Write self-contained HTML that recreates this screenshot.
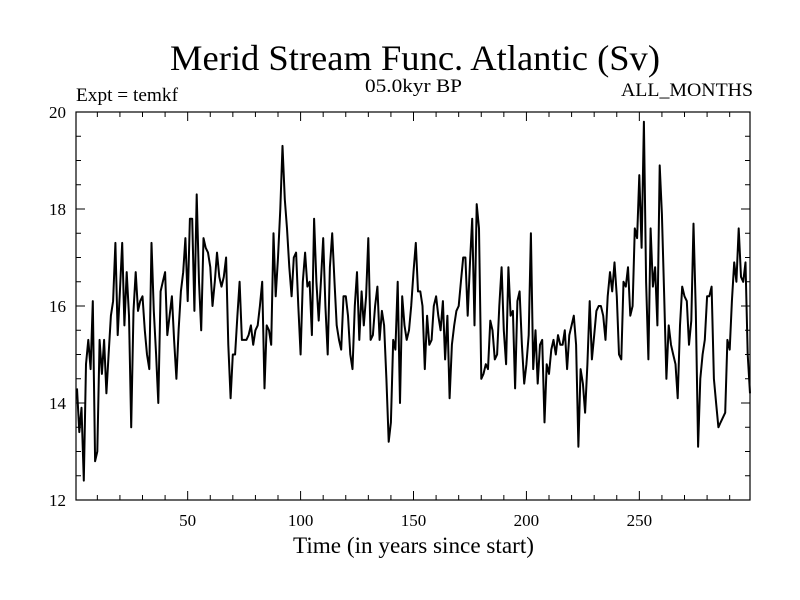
<!DOCTYPE html>
<html><head><meta charset="utf-8"><style>
body{margin:0;background:#fff}
svg{display:block}
text{font-family:"Liberation Serif",serif;fill:#000}
</style></head><body>
<svg id="chart" width="800" height="600" xmlns="http://www.w3.org/2000/svg">
<rect width="800" height="600" fill="#fff"/>
<text x="170" y="70" font-size="36" textLength="490" lengthAdjust="spacingAndGlyphs">Merid Stream Func. Atlantic (Sv)</text>
<text x="76" y="101" font-size="19" textLength="102" lengthAdjust="spacingAndGlyphs">Expt = temkf</text>
<text x="365" y="92" font-size="19" textLength="97" lengthAdjust="spacingAndGlyphs">05.0kyr BP</text>
<text x="621" y="96" font-size="19" textLength="132" lengthAdjust="spacingAndGlyphs">ALL_MONTHS</text>
<text x="293" y="553" font-size="23" textLength="241" lengthAdjust="spacingAndGlyphs">Time (in years since start)</text>
<g id="axes"></g>
<polyline id="series" fill="none" stroke="#000" stroke-width="2" stroke-linejoin="round"/>
<rect x="76" y="112" width="674" height="388" fill="none" stroke="#000" stroke-width="1.2"/>
</svg>
<script>
const xTicks=[50,100,150,200,250];
const yTicks=[12,14,16,18,20];
const values=[
14.3,13.4,13.9,12.4,14.8,15.3,14.7,16.1,12.8,13.0,15.3,14.6,15.3,14.2,15.0,15.8,16.1,17.3,15.4,16.3,
17.3,15.6,16.7,15.8,13.5,15.9,16.7,15.9,16.1,16.2,15.5,15.0,14.7,17.3,15.9,15.0,14.0,16.3,16.5,16.7,
15.4,15.8,16.2,15.3,14.5,15.5,16.3,16.7,17.4,16.1,17.8,17.8,15.9,18.3,16.5,15.5,17.4,17.2,17.1,
16.8,16.0,16.5,17.1,16.6,16.4,16.6,17.0,15.2,14.1,15.0,15.0,15.8,16.5,15.3,15.3,15.3,15.4,15.6,15.2,
15.5,15.6,16.0,16.5,14.3,15.6,15.5,15.2,17.5,16.2,17.0,18.0,19.3,18.2,17.6,16.8,16.2,17.0,17.1,16.0,
15.0,16.5,17.1,16.4,16.5,15.4,17.8,16.5,15.7,16.5,17.4,16.0,15.0,16.8,17.5,16.5,15.6,15.3,15.1,16.2,
16.2,15.8,15.0,14.7,16.0,16.7,15.3,16.3,15.6,16.2,17.4,15.3,15.4,16.0,16.4,15.3,15.9,15.6,14.5,13.2,
13.6,15.3,15.1,16.5,14.0,16.2,15.6,15.3,15.5,16.0,16.7,17.3,16.3,16.3,16.0,14.7,15.8,15.2,15.3,16.0,
16.2,15.8,15.5,16.1,14.9,15.8,14.1,15.2,15.6,15.9,16.0,16.5,17.0,17.0,15.8,16.9,17.8,15.6,18.1,17.6,
14.5,14.6,14.8,14.7,15.7,15.5,14.9,15.0,16.0,16.8,15.5,14.8,16.8,15.8,15.9,14.3,16.1,16.3,15.2,14.4,
14.8,15.4,17.5,14.7,15.5,14.4,15.2,15.3,13.6,14.8,14.6,15.1,15.3,15.0,15.4,15.2,15.2,15.5,14.7,15.4,
15.6,15.8,15.2,13.1,14.7,14.4,13.8,14.8,16.1,14.9,15.4,15.9,16.0,16.0,15.8,15.3,16.2,16.7,16.3,16.9,
16.2,15.0,14.9,16.5,16.4,16.8,15.8,16.0,17.6,17.4,18.7,17.2,19.8,16.5,14.9,17.6,16.4,16.8,15.6,18.9,
17.9,16.2,14.5,15.6,15.2,15.0,14.8,14.1,15.6,16.4,16.2,16.1,15.2,15.7,17.7,15.9,13.1,14.5,15.0,15.3,
16.2,16.2,16.4,14.5,14.0,13.5,13.6,13.7,13.8,15.3,15.1,16.1,16.9,16.5,17.6,16.6,16.5,16.9,15.0,14.2
];
const X0=76,X1=750,Y0=500,Y1=112,XMIN=0.55,XMAX=299,YMIN=12,YMAX=20;
function xs(v){return X0+(v-XMIN)/(XMAX-XMIN)*(X1-X0);}
function ys(v){return Y0-(v-YMIN)/(YMAX-YMIN)*(Y0-Y1);}
const NS="http://www.w3.org/2000/svg";
const axes=document.getElementById('axes');
function line(x1,y1,x2,y2,name){const l=document.createElementNS(NS,'line');
l.setAttribute('x1',x1);l.setAttribute('y1',y1);l.setAttribute('x2',x2);l.setAttribute('y2',y2);
l.setAttribute('stroke','#000');l.setAttribute('stroke-width','1');


axes.appendChild(l);}
for(let t=10;t<XMAX;t+=10){const x=xs(t);const L=(t%50===0)?9:5;
line(x,Y0,x,Y0-L,'x-tick');line(x,Y1,x,Y1+L,'x-tick-top');}
for(let t=12;t<=20.001;t+=0.5){const y=ys(t);const L=(Math.abs(t%2)<1e-6)?9:5;
line(X0,y,X0+L,y,'y-tick');line(X1,y,X1-L,y,'y-tick-right');}
xTicks.forEach(t=>{const tx=document.createElementNS(NS,'text');
tx.setAttribute('x',xs(t));tx.setAttribute('y',526);tx.setAttribute('font-size','17');tx.setAttribute('text-anchor','middle');


tx.textContent=t;axes.appendChild(tx);});
yTicks.forEach(t=>{const tx=document.createElementNS(NS,'text');
tx.setAttribute('x',66);tx.setAttribute('y',ys(t)+6);tx.setAttribute('font-size','17');tx.setAttribute('text-anchor','end');


tx.textContent=t;axes.appendChild(tx);});
document.getElementById('series').setAttribute('points',values.map((v,i)=>xs(i+1).toFixed(1)+','+ys(v).toFixed(1)).join(' '));
</script>
</body></html>
